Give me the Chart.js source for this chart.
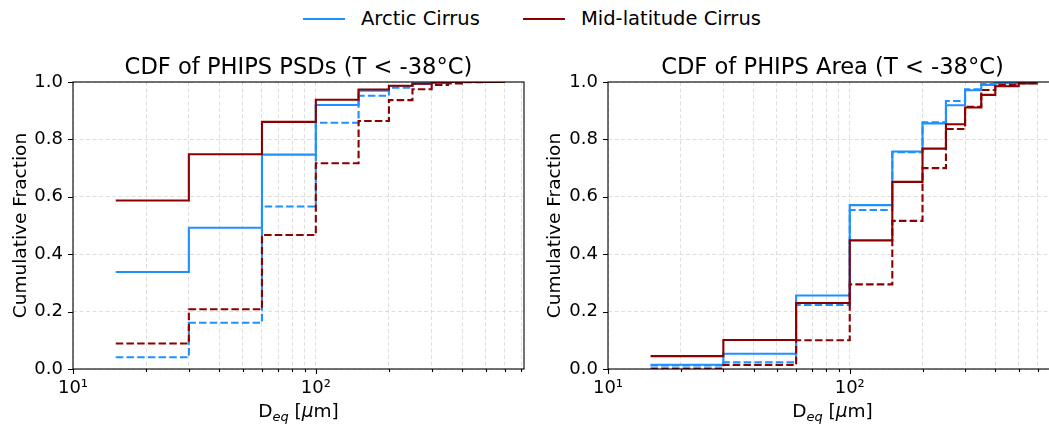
<!DOCTYPE html>
<html>
<head>
<meta charset="utf-8">
<script src="https://cdn.jsdelivr.net/npm/chart.js@4.4.1/dist/chart.umd.min.js"></script>
<style>
  html, body { margin: 0; padding: 0; background: #fff; overflow: hidden; width: 1049px; height: 426px; }
  body { position: relative; font-family: "DejaVu Sans", sans-serif; }
  .panel { position: absolute; top: 0; }
  .legend-line { position: absolute; height: 2px; top: 18px; width: 42px; }
  .legend-text { position: absolute; top: 6px; font-size: 19.5px; line-height: 26px; color: #000; }
</style>
</head>
<body>
<!-- Legend shared by both panels -->
<div class="legend-line" style="left:303px;background:#1E90FF"></div>
<div class="legend-text" style="left:361px">Arctic Cirrus</div>
<div class="legend-line" style="left:523px;background:#8B0000"></div>
<div class="legend-text" style="left:581px">Mid-latitude Cirrus</div>

<div class="panel" style="left:0;width:545px;height:426px"><canvas id="psd" width="545" height="426"></canvas></div>
<div class="panel" style="left:545px;width:530px;height:426px"><canvas id="area" width="530" height="426"></canvas></div>

<script>
// Bin edges in µm (lines step at each edge, last edge closes the final bin)
const edges = [15, 30, 60, 100, 150, 200, 250, 300, 350, 400, 500, 600];

// CDF of PSDs, one value per bin
const psdArcticSolid  = [0.338, 0.492, 0.747, 0.920, 0.970, 0.986, 0.995, 0.998, 1.0, 1.0, 1.0];
const psdArcticDashed = [0.041, 0.161, 0.566, 0.858, 0.952, 0.980, 0.993, 0.997, 1.0, 1.0, 1.0];
const psdMidSolid     = [0.587, 0.748, 0.861, 0.938, 0.974, 0.987, 0.994, 0.998, 1.0, 1.0, 1.0];
const psdMidDashed    = [0.089, 0.208, 0.467, 0.717, 0.864, 0.937, 0.975, 0.990, 0.995, 0.999, 1.0];

// CDF of area
const areaArcticSolid  = [0.015, 0.053, 0.256, 0.571, 0.758, 0.856, 0.919, 0.971, 0.990, 0.996, 1.0];
const areaArcticDashed = [0.012, 0.023, 0.223, 0.554, 0.755, 0.860, 0.934, 0.975, 0.993, 0.998, 1.0];
const areaMidSolid     = [0.045, 0.101, 0.230, 0.448, 0.652, 0.768, 0.853, 0.911, 0.955, 0.985, 0.995];
const areaMidDashed    = [0.002, 0.014, 0.100, 0.295, 0.516, 0.700, 0.836, 0.914, 0.972, 0.990, 0.996];

const xTickValues = [10, 20, 30, 40, 50, 60, 70, 80, 90, 100, 200, 300, 400, 500, 600, 700];
const xTickLabels = { 10: '10\u00b9', 100: '10\u00b2' };
const yTickValues = [0, 0.2, 0.4, 0.6, 0.8, 1.0];

const BLUE = '#1E90FF';
const RED = '#8B0000';
const FONT = '"DejaVu Sans", sans-serif';

// step points: each bin value starts at its left edge, last value held to the final edge
function stepPoints(vals) {
  const pts = vals.map((v, i) => ({ x: edges[i], y: v }));
  pts.push({ x: edges[edges.length - 1], y: vals[vals.length - 1] });
  return pts;
}

function line(vals, color, dashed) {
  return {
    data: stepPoints(vals),
    borderColor: color,
    borderWidth: 2.1,
    borderDash: dashed ? [7.5, 3.2] : [],
    stepped: 'before',
    pointRadius: 0,
    fill: false,
  };
}

const decor = {
  id: 'decor',
  afterDraw(chart, args, opts) {
    const { ctx, chartArea: a, scales: { x, y } } = chart;
    ctx.save();
    ctx.strokeStyle = '#000';
    ctx.lineWidth = 1.1;
    ctx.strokeRect(a.left, a.top, a.right - a.left, a.bottom - a.top);

    // tick marks
    ctx.beginPath();
    xTickValues.forEach(v => {
      const px = Math.round(x.getPixelForValue(v)) + 0.5;
      const len = (v === 10 || v === 100) ? 5 : 3;
      ctx.moveTo(px, a.bottom);
      ctx.lineTo(px, a.bottom + len);
    });
    yTickValues.forEach(v => {
      const py = Math.round(y.getPixelForValue(v)) + 0.5;
      ctx.moveTo(a.left, py);
      ctx.lineTo(a.left - 5, py);
    });
    ctx.stroke();

    ctx.fillStyle = '#000';
    // title
    ctx.font = '22.6px ' + FONT;
    ctx.textAlign = 'center';
    ctx.textBaseline = 'alphabetic';
    ctx.fillText(opts.title, (a.left + a.right) / 2, a.top - 8);

    // y label
    ctx.save();
    ctx.translate(opts.yLabelX, (a.top + a.bottom) / 2);
    ctx.rotate(-Math.PI / 2);
    ctx.font = '18.5px ' + FONT;
    ctx.textBaseline = 'middle';
    ctx.fillText('Cumulative Fraction', 0, 0);
    ctx.restore();

    // x label: D_eq [µm]
    const cx = (a.left + a.right) / 2;
    const base = 417;
    const big = '18.5px ' + FONT;
    const sub = 'italic 13px ' + FONT;
    const ital = 'italic 18.5px ' + FONT;
    ctx.textAlign = 'left';
    ctx.font = big; const wD = ctx.measureText('D').width;
    ctx.font = sub; const wEq = ctx.measureText('eq').width;
    ctx.font = big; const wOpen = ctx.measureText(' [').width;
    ctx.font = ital; const wMu = ctx.measureText('\u03bc').width;
    ctx.font = big; const wRest = ctx.measureText('m]').width;
    let px = cx - (wD + wEq + wOpen + wMu + wRest) / 2;
    ctx.font = big; ctx.fillText('D', px, base); px += wD;
    ctx.font = sub; ctx.fillText('eq', px, base + 4); px += wEq;
    ctx.font = big; ctx.fillText(' [', px, base); px += wOpen;
    ctx.font = ital; ctx.fillText('\u03bc', px, base); px += wMu;
    ctx.font = big; ctx.fillText('m]', px, base);
    ctx.restore();
  }
};

function makeChart(id, datasets, opts) {
  return new Chart(document.getElementById(id), {
    type: 'line',
    data: { datasets },
    options: {
      responsive: false,
      animation: false,
      layout: { padding: { top: 82, right: opts.padRight, bottom: 0, left: 0 } },
      plugins: {
        legend: { display: false },
        tooltip: { enabled: false },
        decor: { title: opts.title, yLabelX: opts.yLabelX },
      },
      scales: {
        x: {
          type: 'logarithmic',
          min: 10,
          max: 720,
          afterBuildTicks: s => { s.ticks = xTickValues.map(v => ({ value: v })); },
          afterFit: s => { s.height = 57; },
          grid: { color: '#d6d6d6', lineWidth: 0.8, drawTicks: false },
          border: { display: false, dash: [4, 2.5] },
          ticks: {
            autoSkip: false,
            maxRotation: 0,
            padding: 9,
            color: '#000',
            font: { family: FONT, size: 18 },
            callback: v => xTickLabels[v] || '',
          },
        },
        y: {
          min: 0,
          max: 1,
          afterFit: s => { s.width = opts.yWidth; },
          grid: { color: '#d6d6d6', lineWidth: 0.8, drawTicks: false },
          border: { display: false, dash: [4, 2.5] },
          ticks: {
            stepSize: 0.2,
            padding: 10,
            color: '#000',
            font: { family: FONT, size: 18 },
            callback: v => v.toFixed(1),
          },
        },
      },
    },
    plugins: [decor],
  });
}

// first dataset is drawn on top
makeChart('psd', [
  line(psdMidSolid, RED, false),
  line(psdMidDashed, RED, true),
  line(psdArcticSolid, BLUE, false),
  line(psdArcticDashed, BLUE, true),
], { title: 'CDF of PHIPS PSDs (T < -38\u00b0C)', padRight: 21, yWidth: 73, yLabelX: 21 });

makeChart('area', [
  line(areaMidSolid, RED, false),
  line(areaMidDashed, RED, true),
  line(areaArcticSolid, BLUE, false),
  line(areaArcticDashed, BLUE, true),
], { title: 'CDF of PHIPS Area (T < -38\u00b0C)', padRight: 18, yWidth: 63, yLabelX: 10 });
</script>
</body>
</html>
